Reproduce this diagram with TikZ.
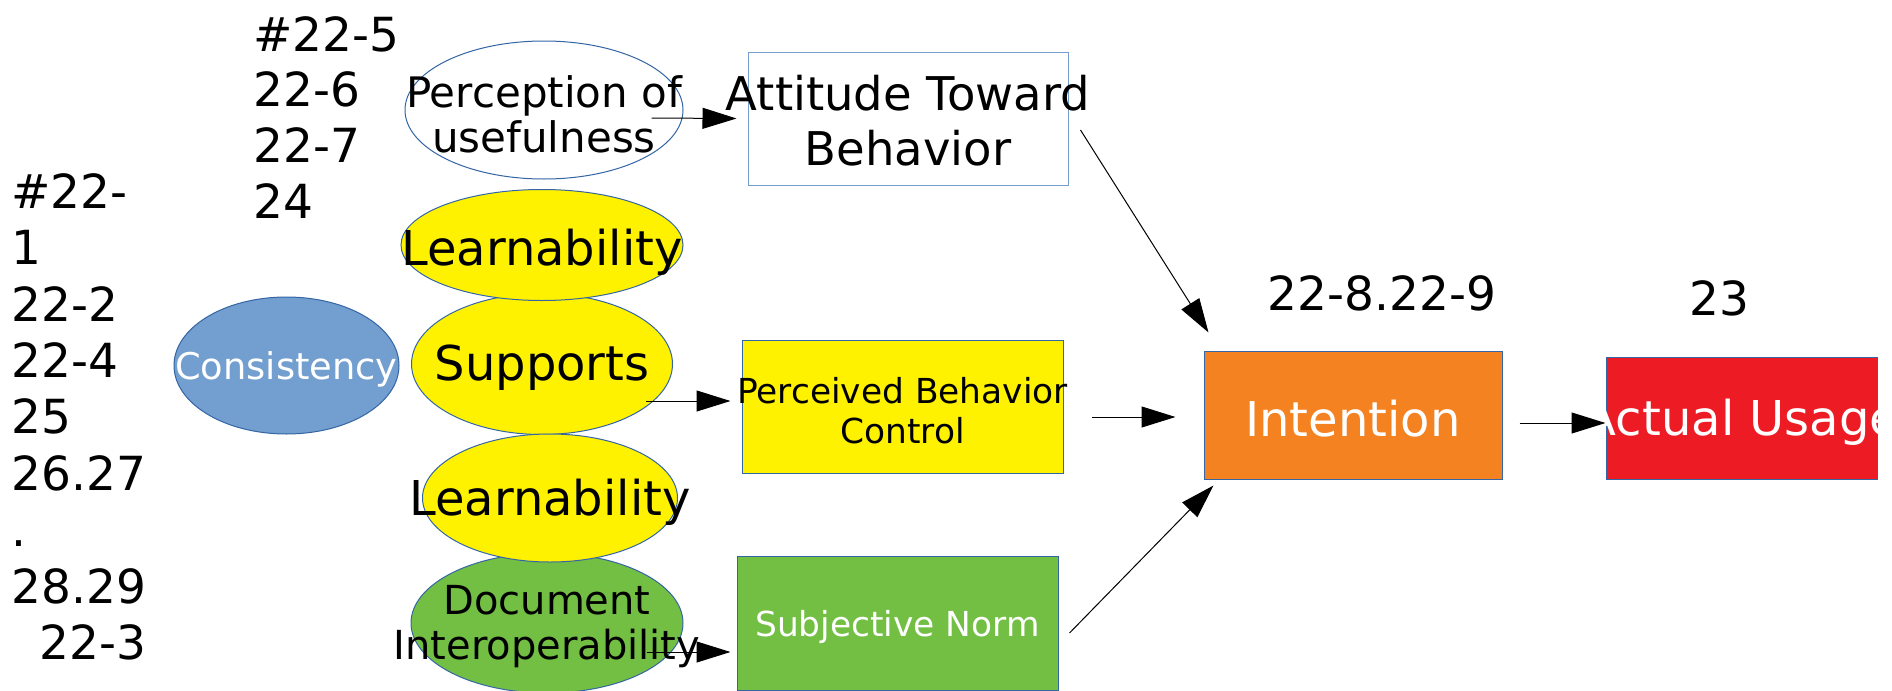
\documentclass[tikz,border=0pt]{standalone}
\usepackage{fontspec}
\setmainfont{DejaVu Sans}
\usetikzlibrary{shapes.geometric,arrows.meta,calc}
\definecolor{lineblue}{HTML}{3465A4}
\definecolor{lightblue}{HTML}{729FCF}
\definecolor{boxyellow}{HTML}{FFF200}
\definecolor{boxgreen}{HTML}{72BF44}
\definecolor{boxorange}{HTML}{F58220}
\definecolor{boxred}{HTML}{ED1C24}
\newcommand{\fsz}[2]{\fontsize{#1}{#2}\selectfont}
\tikzset{
  bubble/.style={ellipse,draw=lineblue,line width=0.5pt,inner sep=0pt},
  block/.style={rectangle,draw=lineblue,line width=0.5pt,inner sep=0pt},
  arr/.style={-{Triangle[length=17pt,width=10.5pt]},line width=0.5pt},
  every label/.append style={yshift=-2pt},
}
\begin{document}
\begin{tikzpicture}[x=0.5pt,y=-0.5pt]%
\useasboundingbox (0,0) rectangle (1892,691);%
%
% item numbers
\node[anchor=north west,inner sep=0pt,align=left,font=\fsz{23.5pt}{28.2pt}] (numsA) at (11,173)%
  {\#22-\\1\\22-2\\22-4\\25\\26.27\\.\\28.29\\\hspace*{14pt}22-3};%
\node[anchor=north west,inner sep=0pt,align=left,font=\fsz{23.5pt}{27.8pt}] (numsB) at (253,16)%
  {\#22-5\\22-6\\22-7\\24};%
\node[anchor=base,inner sep=0pt,font=\fsz{23.5pt}{28pt}] (numsC) at (1382,310) {22-8.22-9};%
\node[anchor=base,inner sep=0pt,font=\fsz{23.5pt}{28pt}] (numsD) at (1719,315) {23};%
%
% factors
\node[bubble,fill=boxyellow,minimum width=130.5pt,minimum height=70.5pt,%
  label={[font=\fsz{24pt}{28pt}]center:Supports}] (supp) at (542,364) {};%
\node[bubble,fill=boxyellow,minimum width=141pt,minimum height=55.5pt,%
  label={[font=\fsz{24pt}{28pt},yshift=-1.5pt]center:Learnability}] (learnA) at (542,245) {};%
\node[bubble,fill=boxgreen,minimum width=136pt,minimum height=70pt,%
  label={[font=\fsz{20pt}{22.5pt},align=center]center:Document\\Interoperability}] (doc) at (547,623) {};%
\node[bubble,fill=boxyellow,minimum width=127.5pt,minimum height=64pt,%
  label={[font=\fsz{24pt}{28pt}]center:Learnability}] (learnB) at (550,498) {};%
\node[bubble,fill=white,minimum width=139pt,minimum height=69pt,%
  label={[font=\fsz{21pt}{22.5pt},align=center]center:Perception of\\usefulness}] (perc) at (544,110) {};%
\node[bubble,fill=lightblue,minimum width=112.5pt,minimum height=68.5pt,%
  label={[font=\fsz{18.4pt}{22pt},text=white]center:Consistency}] (cons) at (286.5,365.5) {};%
%
% model
\node[block,draw=lightblue,fill=white,minimum width=160pt,minimum height=66.5pt,%
  label={[font=\fsz{23.25pt}{27.5pt},align=center,yshift=1pt]center:Attitude Toward\\Behavior}] (att) at (908,118.5) {};%
\node[block,fill=boxyellow,minimum width=160.5pt,minimum height=66.5pt,%
  label={[font=\fsz{17.2pt}{20pt},align=center]center:Perceived Behavior\\Control}] (pbc) at (902.5,406.5) {};%
\node[block,fill=boxgreen,minimum width=160.5pt,minimum height=67pt,%
  label={[font=\fsz{17.2pt}{20pt},text=white]center:Subjective Norm}] (subj) at (897.5,623) {};%
\node[block,fill=boxorange,minimum width=149pt,minimum height=64pt,%
  label={[font=\fsz{24pt}{28pt},text=white]center:Intention}] (int) at (1353,415) {};%
\node[block,fill=boxred,minimum width=135.5pt,minimum height=61pt,%
  label={[font=\fsz{24pt}{28pt},text=white]center:Actual Usage}] (act) at (1741.5,418) {};%
%
% arrows
\draw[arr] ($(perc.east)+(-32,8)$) -- ($(att.west)+(-11,0)$);%
\draw[arr] ($(att.east)+(12,11.5)$) -- ($(int.north west)+(5,-18)$);%
\draw[arr] ($(supp.east)+(-27,37)$) -- ($(pbc.west)+(-11,-5.5)$);%
\draw[arr] ($(pbc.east)+(28,10.5)$) -- ($(int.west)+(-28,2)$);%
\draw[arr] ($(subj.east)+(11,10)$) -- ($(int.south west)+(10,6)$);%
\draw[arr] ($(doc.east)+(-37,29)$) -- ($(subj.west)+(-6,29)$);%
\draw[arr] ($(int.east)+(17,8)$) -- ($(act.west)+(0,5)$);%
%
\end{tikzpicture}
\end{document}
